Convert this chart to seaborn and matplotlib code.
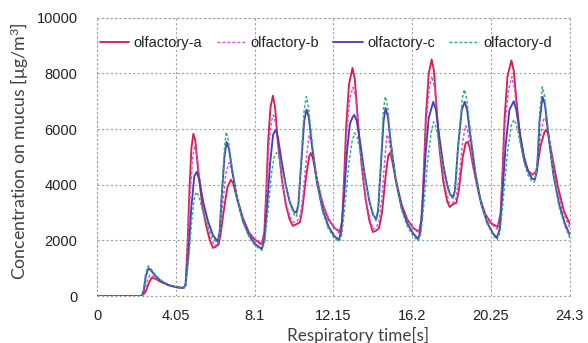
import matplotlib
matplotlib.use("Agg")
import matplotlib.pyplot as plt
import seaborn as sns
import pandas as pd

# ---- data ----
series_names = ["olfactory-a", "olfactory-b", "olfactory-c", "olfactory-d"]

time_a = [0, 2.3, 2.5, 2.65, 2.8, 3.0, 3.3, 3.7, 4.1, 4.45, 4.55, 4.65, 4.75, 4.85, 4.95, 5.05, 5.2, 5.4, 5.6, 5.8,
          5.96, 6.1, 6.25, 6.35, 6.5, 6.7, 6.88, 7.0, 7.2, 7.5, 7.8, 8.1, 8.47, 8.6, 8.7, 8.8, 8.92, 9.04, 9.15, 9.3,
          9.5, 9.7, 9.9, 10.07, 10.3, 10.43, 10.55, 10.75, 10.9, 10.99, 11.1, 11.3, 11.6, 11.9, 12.2, 12.48, 12.6, 12.7,
          12.8, 12.95, 13.13, 13.25, 13.4, 13.6, 13.8, 14.0, 14.18, 14.35, 14.5, 14.65, 14.85, 14.97, 15.05, 15.15,
          15.35, 15.65, 15.95, 16.25, 16.55, 16.7, 16.8, 16.9, 17.05, 17.2, 17.32, 17.45, 17.6, 17.8, 18.0, 18.13,
          18.3, 18.47, 18.6, 18.8, 18.95, 19.05, 19.15, 19.35, 19.65, 19.95, 20.25, 20.6, 20.75, 20.85, 20.95, 21.1,
          21.3, 21.42, 21.55, 21.75, 21.95, 22.15, 22.4, 22.6, 22.8, 23.0, 23.1, 23.2, 23.4, 23.7, 24.0, 24.3]
conc_a = [0, 0, 150, 450, 650, 620, 500, 390, 320, 290, 400, 1800, 3800, 5300, 5830, 5600, 4500, 3300, 2550, 2000,
          1730, 1770, 1850, 2200, 3000, 3900, 4180, 4050, 3500, 2800, 2300, 2030, 1870, 2300, 3800, 5600, 6800, 7200,
          6800, 5500, 4200, 3300, 2750, 2520, 2600, 2650, 3100, 4300, 5000, 5140, 4950, 4200, 3300, 2750, 2450, 2310,
          2700, 4200, 6000, 7600, 8200, 7800, 6400, 4700, 3500, 2700, 2300, 2350, 2450, 3000, 4400, 5050, 5140, 4950,
          4200, 3300, 2750, 2450, 2300, 2800, 4500, 6400, 8000, 8500, 8100, 6800, 5300, 4100, 3400, 3200, 3300, 3350,
          3800, 5000, 5500, 5540, 5350, 4600, 3600, 2950, 2620, 2480, 3000, 4600, 6400, 7900, 8470, 8100, 7100, 5700,
          4900, 4500, 4360, 4500, 5400, 5900, 5980, 5800, 5000, 3900, 3050, 2600]

time_b = [0, 2.3, 2.45, 2.6, 2.72, 2.9, 3.2, 3.6, 4.0, 4.45, 4.55, 4.67, 4.8, 4.92, 5.02, 5.12, 5.3, 5.5, 5.7, 5.9,
          6.05, 6.2, 6.3, 6.45, 6.62, 6.78, 6.9, 7.1, 7.4, 7.7, 8.0, 8.45, 8.6, 8.72, 8.85, 8.97, 9.07, 9.18, 9.35,
          9.55, 9.75, 9.95, 10.1, 10.3, 10.45, 10.6, 10.78, 10.9, 11.0, 11.2, 11.5, 11.8, 12.1, 12.45, 12.6, 12.72,
          12.85, 13.0, 13.15, 13.28, 13.45, 13.65, 13.85, 14.05, 14.2, 14.35, 14.5, 14.65, 14.8, 14.9, 15.0, 15.2,
          15.5, 15.8, 16.1, 16.5, 16.65, 16.78, 16.92, 17.08, 17.22, 17.35, 17.5, 17.7, 17.9, 18.1, 18.3, 18.45, 18.6,
          18.8, 18.95, 19.05, 19.25, 19.55, 19.85, 20.15, 20.58, 20.72, 20.85, 20.98, 21.15, 21.32, 21.45, 21.6, 21.8,
          22.0, 22.2, 22.4, 22.6, 22.8, 22.95, 23.02, 23.12, 23.3, 23.6, 23.9, 24.3]
conc_b = [0, 0, 200, 600, 750, 700, 560, 420, 330, 290, 400, 1800, 3800, 5000, 5360, 5150, 4100, 3100, 2450, 2000,
          1800, 1870, 2200, 3200, 4400, 4790, 4600, 3900, 3000, 2400, 2050, 1820, 2200, 3800, 5500, 6300, 6500, 6200,
          5100, 4000, 3250, 2800, 2650, 2700, 2900, 3700, 5100, 5760, 5600, 4700, 3600, 2950, 2550, 2250, 2600, 4200,
          6000, 7100, 7500, 7200, 5900, 4400, 3400, 2700, 2400, 2450, 2700, 3600, 5000, 5800, 5650, 4700, 3600, 2950,
          2550, 2280, 2650, 4300, 6200, 7500, 7900, 7500, 6300, 4900, 3900, 3350, 3350, 3500, 4200, 5600, 6120, 5950,
          5000, 3900, 3100, 2650, 2400, 2850, 4500, 6200, 7400, 7880, 7500, 6500, 5400, 4750, 4450, 4350, 4600, 5800,
          6350, 6400, 6200, 5300, 4000, 3100, 2450]

time_c = [0, 2.3, 2.4, 2.5, 2.64, 2.8, 3.0, 3.3, 3.7, 4.1, 4.45, 4.55, 4.7, 4.85, 5.0, 5.12, 5.25, 5.45, 5.7, 5.95,
          6.2, 6.3, 6.4, 6.55, 6.66, 6.78, 6.95, 7.2, 7.5, 7.8, 8.1, 8.47, 8.6, 8.75, 8.9, 9.05, 9.18, 9.3, 9.5, 9.7,
          9.9, 10.1, 10.25, 10.35, 10.5, 10.65, 10.77, 10.88, 11.05, 11.3, 11.6, 11.9, 12.2, 12.43, 12.55, 12.7, 12.85,
          13.0, 13.12, 13.22, 13.35, 13.55, 13.75, 14.0, 14.2, 14.36, 14.45, 14.6, 14.73, 14.83, 14.95, 15.1, 15.35,
          15.65, 15.95, 16.25, 16.5, 16.62, 16.75, 16.9, 17.05, 17.28, 17.42, 17.6, 17.8, 18.0, 18.15, 18.3, 18.4,
          18.55, 18.75, 18.9, 19.02, 19.2, 19.45, 19.75, 20.05, 20.35, 20.55, 20.7, 20.85, 21.0, 21.2, 21.42, 21.55,
          21.75, 21.95, 22.15, 22.35, 22.5, 22.62, 22.75, 22.9, 23.02, 23.2, 23.45, 23.75, 24.05, 24.3]
conc_c = [0, 0, 200, 700, 1000, 900, 720, 530, 380, 310, 290, 400, 1500, 3200, 4300, 4460, 4200, 3400, 2700, 2200,
          1950, 2300, 3500, 5000, 5540, 5300, 4500, 3500, 2700, 2200, 1880, 1690, 2000, 3300, 4800, 5800, 5980, 5700,
          4800, 4000, 3400, 3050, 2990, 3300, 4800, 6300, 6700, 6450, 5400, 4100, 3100, 2500, 2150, 2020, 2300, 3600,
          5200, 6200, 6400, 6510, 6300, 5400, 4400, 3400, 2900, 2770, 3100, 4800, 6300, 6760, 6450, 5500, 4200, 3200,
          2600, 2250, 2050, 2300, 3500, 5200, 6400, 6980, 6700, 5700, 4700, 4000, 3650, 3560, 3800, 5300, 6700, 6980,
          6700, 5700, 4400, 3300, 2650, 2250, 2090, 2400, 3800, 5400, 6700, 7000, 6700, 5800, 5000, 4500, 4230, 4180,
          4500, 6300, 7160, 6900, 5800, 4400, 3300, 2600, 2200]

time_d = [0, 2.3, 2.4, 2.5, 2.62, 2.75, 3.0, 3.3, 3.7, 4.1, 4.45, 4.56, 4.72, 4.88, 5.02, 5.13, 5.25, 5.45, 5.7, 5.95,
          6.2, 6.3, 6.4, 6.55, 6.64, 6.75, 6.95, 7.2, 7.5, 7.8, 8.1, 8.47, 8.62, 8.78, 8.95, 9.1, 9.23, 9.35, 9.55,
          9.75, 9.95, 10.15, 10.25, 10.35, 10.5, 10.65, 10.76, 10.87, 11.05, 11.3, 11.6, 11.9, 12.2, 12.45, 12.58,
          12.75, 12.95, 13.12, 13.25, 13.38, 13.58, 13.8, 14.05, 14.25, 14.35, 14.45, 14.6, 14.72, 14.82, 14.94, 15.1,
          15.35, 15.65, 15.95, 16.25, 16.52, 16.65, 16.8, 17.0, 17.18, 17.3, 17.42, 17.62, 17.85, 18.05, 18.2, 18.32,
          18.42, 18.58, 18.78, 18.88, 19.0, 19.2, 19.45, 19.75, 20.05, 20.35, 20.57, 20.72, 20.9, 21.1, 21.3, 21.43,
          21.56, 21.75, 21.95, 22.15, 22.35, 22.48, 22.6, 22.75, 22.89, 23.0, 23.2, 23.45, 23.75, 24.05, 24.3]
conc_d = [0, 0, 250, 800, 1080, 1000, 760, 560, 400, 320, 280, 400, 1400, 2800, 3600, 3740, 3550, 3000, 2500, 2100,
          1880, 2200, 3500, 5300, 5900, 5600, 4600, 3500, 2650, 2150, 1830, 1640, 1950, 3000, 4300, 5000, 5150, 5000,
          4400, 3800, 3250, 2900, 2850, 3200, 5000, 6700, 7170, 6800, 5600, 4100, 3000, 2400, 2080, 1950, 2200, 3300,
          4800, 5600, 5860, 5700, 5000, 4100, 3300, 2800, 2700, 3000, 5000, 6700, 7170, 6800, 5600, 4200, 3100, 2500,
          2150, 1980, 2250, 3300, 4900, 5900, 6260, 6100, 5300, 4400, 3800, 3550, 3500, 3800, 5600, 7100, 7420, 7100,
          5900, 4500, 3300, 2600, 2180, 2020, 2300, 3600, 5200, 6150, 6340, 6150, 5500, 4800, 4350, 4120, 4100, 4500,
          6600, 7520, 7200, 5900, 4400, 3200, 2500, 2100]

x_ticks = [0, 4.05, 8.1, 12.15, 16.2, 20.25, 24.3]
x_tick_labels = ["0", "4.05", "8.1", "12.15", "16.2", "20.25", "24.3"]
y_ticks = [0, 2000, 4000, 6000, 8000, 10000]

# ---- style ----
sns.set_style("white")
plt.rcParams["font.family"] = ["Liberation Sans", "DejaVu Sans"]
plt.rcParams["mathtext.default"] = "regular"

fig = plt.figure(figsize=(5.88, 3.43), dpi=100)
ax = fig.add_axes([0.165, 0.137, 0.804, 0.811])

styles = {
    "olfactory-a": dict(color="#d6204e", lw=1.35, ls="-"),
    "olfactory-b": dict(color="#d84fd8", lw=1.05, ls=(0, (2, 1.4))),
    "olfactory-c": dict(color="#4a3fb4", lw=1.35, ls="-"),
    "olfactory-d": dict(color="#2fae84", lw=1.05, ls=(0, (2, 1.4))),
}
data = {
    "olfactory-a": (time_a, conc_a),
    "olfactory-b": (time_b, conc_b),
    "olfactory-c": (time_c, conc_c),
    "olfactory-d": (time_d, conc_d),
}

for name in series_names:
    t, v = data[name]
    df = pd.DataFrame({"t": t, "v": v})
    st = styles[name]
    sns.lineplot(data=df, x="t", y="v", ax=ax, color=st["color"], linewidth=st["lw"],
                 linestyle=st["ls"], label=name, estimator=None)

ax.set_xlim(0, 24.3)
ax.set_ylim(0, 10000)
ax.set_xticks(x_ticks)
ax.set_xticklabels(x_tick_labels)
ax.set_yticks(y_ticks)
ax.tick_params(axis="both", length=0, labelsize=10.5, colors="#222222")
ax.tick_params(axis="y", pad=14)
ax.tick_params(axis="x", pad=9)

for s in ax.spines.values():
    s.set_visible(False)
ax.grid(True, color="#a0a0a0", linestyle=(0, (2, 2)), linewidth=0.8)
ax.set_axisbelow(True)
for xv in (0, 24.3):
    ax.axvline(xv, color="#a0a0a0", linestyle=(0, (2, 2)), linewidth=0.8, zorder=0, clip_on=False)
for yv in (0, 10000):
    ax.axhline(yv, color="#a0a0a0", linestyle=(0, (2, 2)), linewidth=0.8, zorder=0, clip_on=False)

ax.set_xlabel("Respiratory time[s]", fontsize=12.3, color="#404040", family=["Lato", "DejaVu Sans"], labelpad=0)
ax.xaxis.set_label_coords((358 - 97) / 473, -0.112)
ax.set_ylabel("Concentration on mucus [μg/m$^{3}$]", fontsize=12.8, color="#404040",
              family=["Lato", "DejaVu Sans"])
ax.yaxis.set_label_coords((31 - 97) / 473, 0.52)

leg = ax.legend(loc="center left", bbox_to_anchor=(0.0, 0.91), ncol=4, frameon=False,
                fontsize=10.5, handlelength=2.0, handletextpad=0.3, columnspacing=1.0,
                borderaxespad=0.0, borderpad=0.2)
for txt in leg.get_texts():
    txt.set_color("#222222")

fig.savefig("out.png", dpi=100)
